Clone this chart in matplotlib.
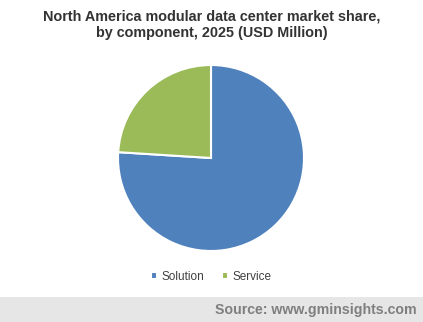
import matplotlib
matplotlib.use("Agg")
from matplotlib import pyplot as plt
from matplotlib.patches import Rectangle

# data
labels = ["Solution", "Service"]
values = [76, 24]
colors = ["#4F81BD", "#9BBB59"]

plt.rcParams['font.family'] = ['Liberation Sans', 'DejaVu Sans']

fig = plt.figure(figsize=(4.23, 3.22), dpi=100)

# pie axes: centre (211,158), radius 93 px
W, H = 423, 322
ax = fig.add_axes([(211 - 93) / W, 1 - (158 + 93) / H, 186 / W, 186 / H])
wedges, _ = ax.pie(values, colors=colors, startangle=90, counterclock=False,
                   wedgeprops=dict(edgecolor="white", linewidth=1.5))
ax.set_xlim(-1, 1)
ax.set_ylim(-1, 1)
ax.set_aspect("equal")

fig.text(0.5, 1 - 25 / H, "North America modular data center market share,\nby component, 2025 (USD Million)",
         ha="center", va="center", fontsize=10.4, fontweight="bold", color="#333333", linespacing=1.25)

leg = fig.legend(wedges, labels, loc="center", bbox_to_anchor=(0.5, 1 - 277 / H),
                 ncol=2, frameon=False, fontsize=8.5, handlelength=0.5, handleheight=0.5,
                 handletextpad=0.4, columnspacing=1.5)
for t in leg.get_texts():
    t.set_color("#404040")

# footer band
fig.patches.append(Rectangle((0, 0), 1, 25 / H, transform=fig.transFigure,
                             facecolor="#E6E6E6", edgecolor="none", zorder=0))
fig.text(1 - 6 / W, 12 / H, "Source: www.gminsights.com", ha="right", va="center",
         fontsize=10.2, fontweight="bold", color="#7F7F7F")

fig.savefig("out.png", dpi=100)
